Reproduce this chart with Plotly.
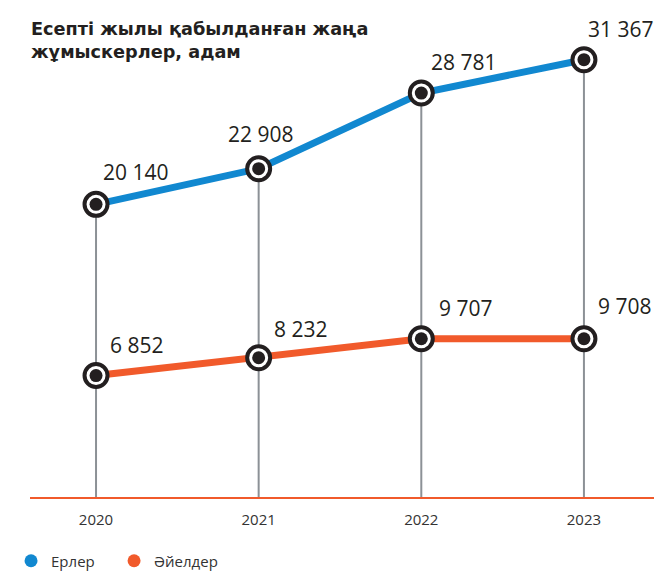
import plotly.graph_objects as go

years = [2020, 2021, 2022, 2023]
men = [20140, 22908, 28781, 31367]
women = [6852, 8232, 9707, 9708]
men_labels = ["20 140", "22 908", "28 781", "31 367"]
women_labels = ["6 852", "8 232", "9 707", "9 708"]
series_names = ["Ерлер", "Әйелдер"]
title_text = "Есепті жылы қабылданған жаңа<br>жұмыскерлер, адам"

BLUE = "#1188d0"
ORANGE = "#f15a2b"
DARK = "#231f20"
GRID = "#8c9196"

Y_MIN, Y_MAX = -2577, 32898

fig = go.Figure()

# vertical guide lines from baseline up to the upper series point
for x, v in zip(years, men):
    fig.add_shape(type="line", xref="x", yref="y", x0=x, x1=x, y0=Y_MIN, y1=v,
                  line=dict(color=GRID, width=2), layer="below")

for vals, color in [(men, BLUE), (women, ORANGE)]:
    fig.add_trace(go.Scatter(x=years, y=vals, mode="lines",
                             line=dict(color=color, width=7),
                             showlegend=False, hoverinfo="skip"))
    fig.add_trace(go.Scatter(x=years, y=vals, mode="markers",
                             marker=dict(size=23, color="white",
                                         line=dict(color=DARK, width=4)),
                             showlegend=False, hoverinfo="skip"))
    fig.add_trace(go.Scatter(x=years, y=vals, mode="markers",
                             marker=dict(size=13, color=DARK),
                             showlegend=False, hoverinfo="skip"))

# legend entries, one legend box each
for name, color, lg in zip(series_names, [BLUE, ORANGE], ["legend", "legend2"]):
    fig.add_trace(go.Scatter(x=[None], y=[None], mode="markers", name=name,
                             marker=dict(size=13, color=color), legend=lg))

men_shift = [40, 2, 43, 37]
men_yshift = [32, 35, 31, 31]
women_shift = [40, 42, 44, 41]
women_yshift = [31, 29, 31, 33]
for x, v, t, dx, dy in zip(years, men, men_labels, men_shift, men_yshift):
    fig.add_annotation(x=x, y=v, text=t, showarrow=False, xshift=dx, yshift=dy,
                       font=dict(size=21, color=DARK, family="Open Sans"))
for x, v, t, dx, dy in zip(years, women, women_labels, women_shift, women_yshift):
    fig.add_annotation(x=x, y=v, text=t, showarrow=False, xshift=dx, yshift=dy,
                       font=dict(size=21, color=DARK, family="Open Sans"))

fig.add_annotation(xref="paper", yref="paper", x=-0.002, y=0.998,
                   xanchor="left", yanchor="middle", align="left",
                   text="<b>" + title_text + "</b>", showarrow=False,
                   font=dict(size=17.7, color=DARK, family="DejaVu Sans"))

legend_style = dict(orientation="h", y=-0.140, xanchor="left", yanchor="middle",
                    font=dict(size=15, color="#333333"), itemclick=False,
                    bgcolor="rgba(0,0,0,0)")

fig.update_layout(
    width=654, height=563,
    margin=dict(l=22, r=0, t=32, b=74, autoexpand=False),
    plot_bgcolor="white", paper_bgcolor="white",
    font=dict(family="Open Sans", color="#333333"),
    showlegend=True,
    legend=dict(x=-0.030, **legend_style),
    legend2=dict(x=0.133, **legend_style),
    xaxis=dict(range=[2019.594, 2023.48], tickvals=years,
               ticktext=[str(y) for y in years], showgrid=False, zeroline=False,
               showline=True, linecolor=ORANGE, linewidth=2,
               ticks="", tickfont=dict(size=15, color="#333333"),
               ticklabelstandoff=8, automargin=False),
    yaxis=dict(range=[Y_MIN, Y_MAX], visible=False, showgrid=False),
)

fig.write_html("out.html")
